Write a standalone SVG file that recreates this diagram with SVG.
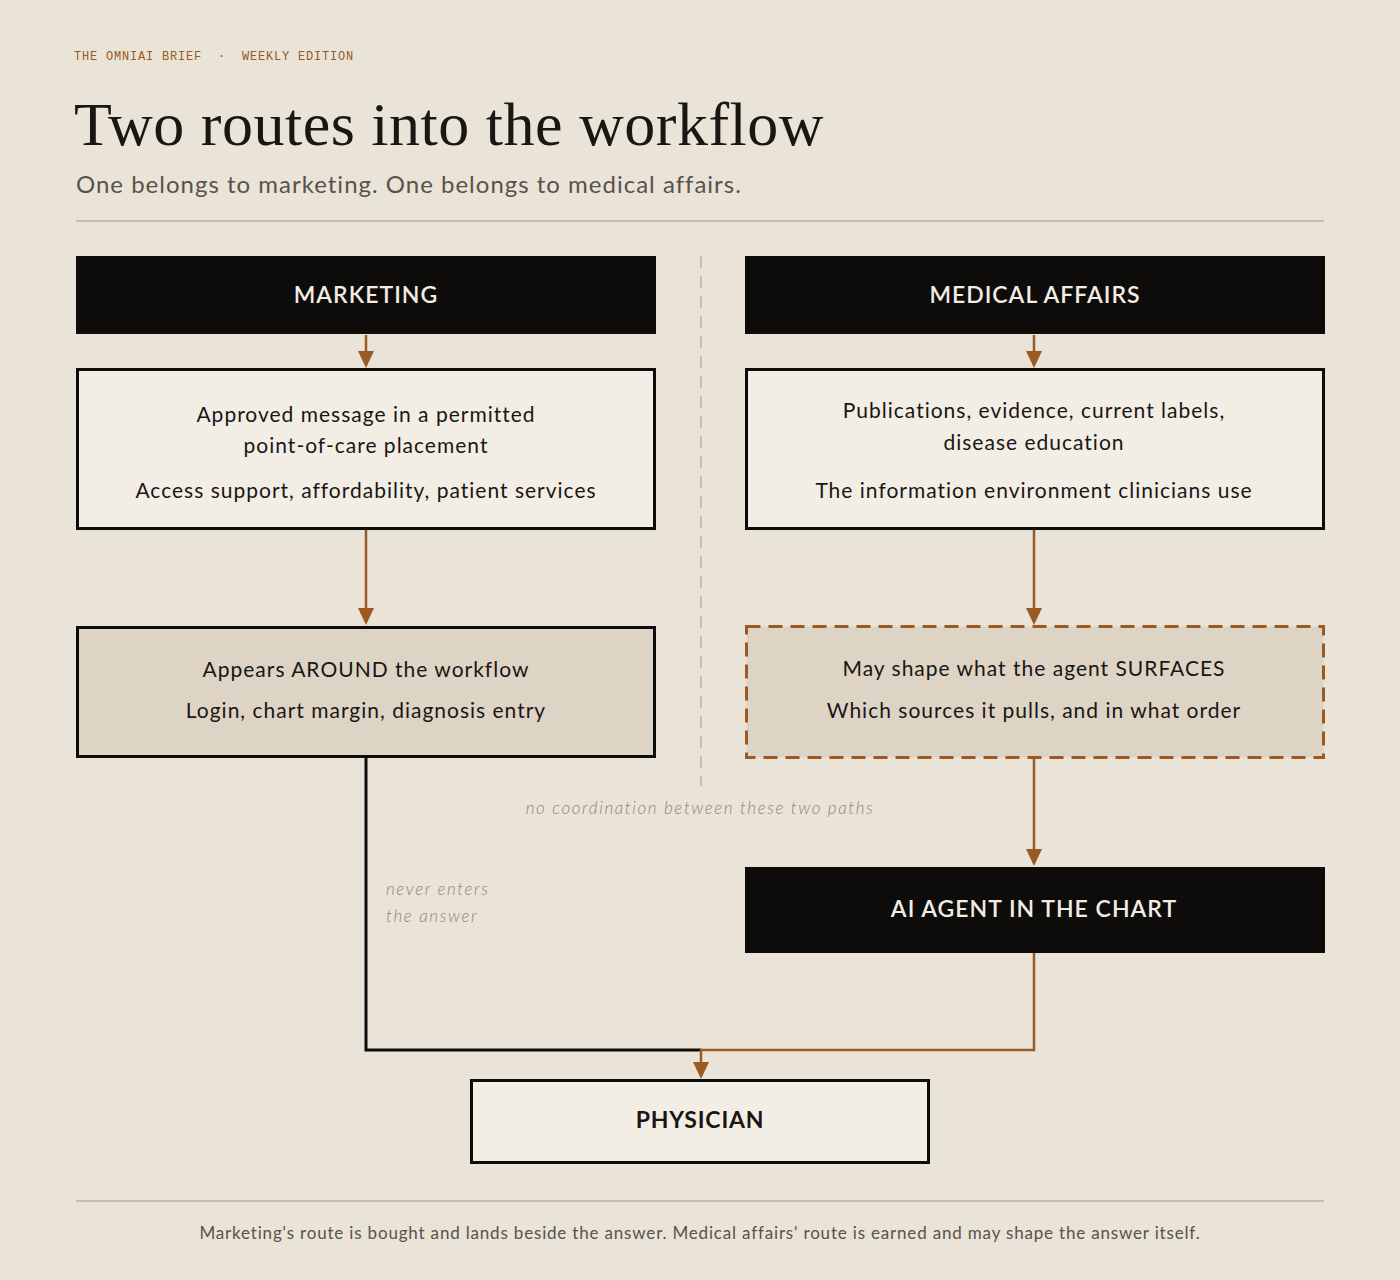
<svg xmlns="http://www.w3.org/2000/svg" width="1400" height="1280" viewBox="0 0 1400 1280">
<style>
.bg{fill:#e9e3d8}
.kick{font-family:"Liberation Mono","DejaVu Sans Mono",monospace;font-size:12px;fill:#9a5a22;letter-spacing:0.8px}
.title{font-family:"Liberation Serif","DejaVu Serif",serif;font-size:62px;fill:#1a1612;letter-spacing:0.5px}
.sub{font-family:Lato,"Noto Sans",sans-serif;font-size:24px;fill:#5a524a;letter-spacing:1px}
.rule{stroke:#c8bfb2;stroke-width:2}
.dark{fill:#0e0c0a}
.hd{font-family:Lato,"Noto Sans",sans-serif;font-size:23px;font-weight:600;fill:#f2ede4;text-anchor:middle;letter-spacing:1px}
.light{fill:#f2eee6;stroke:#0e0c0a;stroke-width:3}
.mid{fill:#ddd4c6;stroke:#0e0c0a;stroke-width:3}
.dash{fill:#ddd4c6;stroke:#9a5a22;stroke-width:3;stroke-dasharray:14 8}
.body{font-family:Lato,"Noto Sans",sans-serif;font-size:21px;fill:#1a1612;text-anchor:middle;letter-spacing:1px}
.phys{font-family:Lato,"Noto Sans",sans-serif;font-size:23px;font-weight:700;fill:#1a1612;text-anchor:middle;letter-spacing:0.8px}
.note{font-family:Lato,"Noto Sans",sans-serif;font-size:17px;font-style:italic;font-weight:300;fill:#8f857c;letter-spacing:1.6px}
.foot{font-family:Lato,"Noto Sans",sans-serif;font-size:17px;fill:#5a524a;text-anchor:middle;letter-spacing:0.82px}
.brown{fill:none;stroke:#9a5a22;stroke-width:2.5}
.black{fill:none;stroke:#0e0c0a;stroke-width:3}
.divider{stroke:#c8bfb2;stroke-width:2;stroke-dasharray:12 8}
.head{fill:#9a5a22}
</style>
<rect class="bg" x="0" y="0" width="1400" height="1280"/>
<g id="header">
<text class="kick" x="74" y="60" xml:space="preserve">THE OMNIAI BRIEF  ·  WEEKLY EDITION</text>
<text class="title" x="74" y="145">Two routes into the workflow</text>
<text class="sub" x="76" y="193">One belongs to marketing. One belongs to medical affairs.</text>
<line class="rule" x1="76" y1="221" x2="1324" y2="221"/>
</g>
<line id="divider" class="divider" x1="701" y1="256" x2="701" y2="786"/>
<g id="connectors">
<line class="brown" x1="366" y1="335" x2="366" y2="356"/>
<line class="brown" x1="1034" y1="335" x2="1034" y2="356"/>
<line class="brown" x1="366" y1="530" x2="366" y2="612"/>
<line class="brown" x1="1034" y1="530" x2="1034" y2="612"/>
<line class="brown" x1="1034" y1="759" x2="1034" y2="853"/>
<path class="black" d="M366 758 L366 1050 L701 1050"/>
<path class="brown" d="M1034 953 L1034 1050 L701 1050 L701 1066"/>
<path class="head" d="M358 351 L374 351 L366 368 Z"/>
<path class="head" d="M1026 351 L1042 351 L1034 368 Z"/>
<path class="head" d="M358 608 L374 608 L366 625 Z"/>
<path class="head" d="M1026 608 L1042 608 L1034 625 Z"/>
<path class="head" d="M1026 849 L1042 849 L1034 866 Z"/>
<path class="head" d="M693 1062 L709 1062 L701 1079 Z"/>
</g>
<g id="marketing">
<rect class="dark" x="76" y="256" width="580" height="78"/>
<text class="hd" x="366" y="303">MARKETING</text>
</g>
<g id="medical-affairs">
<rect class="dark" x="745" y="256" width="580" height="78"/>
<text class="hd" x="1035" y="303">MEDICAL AFFAIRS</text>
</g>
<g id="marketing-message">
<rect class="light" x="77.5" y="369.5" width="577" height="159"/>
<text class="body" x="366" y="422">Approved message in a permitted</text>
<text class="body" x="366" y="453">point-of-care placement</text>
<text class="body" x="366" y="498">Access support, affordability, patient services</text>
</g>
<g id="medical-evidence">
<rect class="light" x="746.5" y="369.5" width="577" height="159"/>
<text class="body" x="1034" y="418">Publications, evidence, current labels,</text>
<text class="body" x="1034" y="450">disease education</text>
<text class="body" x="1034" y="498">The information environment clinicians use</text>
</g>
<g id="around">
<rect class="mid" x="77.5" y="627.5" width="577" height="129"/>
<text class="body" x="366" y="677">Appears AROUND the workflow</text>
<text class="body" x="366" y="718">Login, chart margin, diagnosis entry</text>
</g>
<g id="surfaces">
<rect class="dash" x="746.5" y="626.5" width="577" height="131"/>
<text class="body" x="1034" y="676">May shape what the agent SURFACES</text>
<text class="body" x="1034" y="718">Which sources it pulls, and in what order</text>
</g>
<g id="ai-agent">
<rect class="dark" x="745" y="867" width="580" height="86"/>
<text class="hd" x="1034" y="917">AI AGENT IN THE CHART</text>
</g>
<g id="physician">
<rect class="light" x="471.5" y="1080.5" width="457" height="82"/>
<text class="phys" x="700" y="1128">PHYSICIAN</text>
</g>
<g id="notes">
<text class="note" x="700" y="814" text-anchor="middle">no coordination between these two paths</text>
<text class="note" x="386" y="895">never enters</text>
<text class="note" x="386" y="922">the answer</text>
</g>
<g id="footer">
<line class="rule" x1="76" y1="1201" x2="1324" y2="1201"/>
<text class="foot" x="700" y="1239">Marketing's route is bought and lands beside the answer. Medical affairs' route is earned and may shape the answer itself.</text>
</g>
</svg>
